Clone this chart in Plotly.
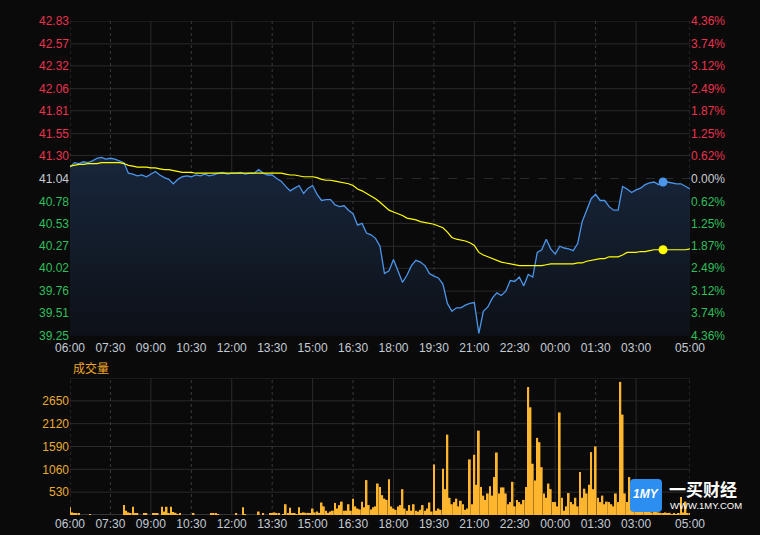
import plotly.graph_objects as go
import pandas as pd

# ---------------- data ----------------
pre_close = 41.04
price_ticks = [42.83, 42.57, 42.32, 42.06, 41.81, 41.55, 41.30, 41.04,
               40.78, 40.53, 40.27, 40.02, 39.76, 39.51, 39.25]
pct_labels = ["4.36%", "3.74%", "3.12%", "2.49%", "1.87%", "1.25%", "0.62%", "0.00%",
              "0.62%", "1.25%", "1.87%", "2.49%", "3.12%", "3.74%", "4.36%"]
vol_ticks = [530, 1060, 1590, 2120, 2650]
vol_top = 3180
time_labels = ["06:00", "07:30", "09:00", "10:30", "12:00", "13:30", "15:00", "16:30",
               "18:00", "19:30", "21:00", "22:30", "00:00", "01:30", "03:00", "05:00"]

# price every 10 minutes from 06:00 to 05:00 (next day)
price = [
    41.17, 41.22, 41.21, 41.23, 41.22, 41.24, 41.27, 41.28, 41.26, 41.27,
    41.26, 41.24, 41.22, 41.10, 41.09, 41.07, 41.08, 41.06, 41.09, 41.12,
    41.08, 41.05, 41.03, 40.98, 41.03, 41.06, 41.07, 41.06, 41.08, 41.07,
    41.09, 41.07, 41.08, 41.10, 41.11, 41.09, 41.10, 41.10, 41.11, 41.09,
    41.10, 41.10, 41.14, 41.10, 41.08, 41.08, 41.04, 41.01, 40.95, 40.90,
    40.93, 40.96, 40.87, 40.93, 40.96, 40.86, 40.79, 40.80, 40.80, 40.74,
    40.72, 40.73, 40.68, 40.64, 40.51, 40.53, 40.42, 40.40, 40.36, 40.27,
    39.96, 39.99, 40.12, 40.00, 39.86, 39.94, 40.05, 40.11, 40.09, 40.05,
    39.96, 39.93, 39.91, 39.84, 39.62, 39.53, 39.57, 39.57, 39.60, 39.62,
    39.63, 39.28, 39.53, 39.58, 39.68, 39.74, 39.71, 39.76, 39.88, 39.87,
    39.92, 39.82, 39.95, 39.92, 40.20, 40.23, 40.35, 40.24, 40.18, 40.27,
    40.25, 40.24, 40.22, 40.30, 40.55, 40.68, 40.81, 40.86, 40.79, 40.79,
    40.72, 40.68, 40.68, 40.95, 40.92, 40.88, 40.91, 40.93, 40.97, 40.99,
    41.00, 40.97, 41.00, 41.00, 40.99, 40.98, 40.98, 40.95, 40.92,
]

# average price every 10 minutes
avg = [
    41.18, 41.19, 41.20, 41.20, 41.21, 41.21, 41.21, 41.22, 41.22, 41.22,
    41.22, 41.22, 41.21, 41.19, 41.18, 41.17, 41.17, 41.17, 41.16, 41.16,
    41.15, 41.14, 41.14, 41.13, 41.12, 41.11, 41.11, 41.11, 41.10, 41.10,
    41.10, 41.10, 41.10, 41.10, 41.10, 41.10, 41.10, 41.10, 41.10, 41.10,
    41.10, 41.10, 41.10, 41.10, 41.10, 41.10, 41.10, 41.10, 41.09, 41.08,
    41.08, 41.07, 41.06, 41.06, 41.06, 41.05, 41.03, 41.02, 41.02, 41.01,
    41.00, 40.99, 40.98, 40.96, 40.92, 40.90, 40.87, 40.84, 40.81, 40.77,
    40.73, 40.68, 40.66, 40.64, 40.62, 40.59, 40.58, 40.57, 40.55, 40.54,
    40.53, 40.52, 40.50, 40.48, 40.43, 40.37, 40.35, 40.34, 40.33, 40.31,
    40.28, 40.20, 40.17, 40.15, 40.13, 40.11, 40.09, 40.08, 40.07, 40.06,
    40.05, 40.05, 40.05, 40.05, 40.05, 40.05, 40.06, 40.07, 40.07, 40.07,
    40.07, 40.07, 40.07, 40.08, 40.08, 40.10, 40.11, 40.12, 40.13, 40.13,
    40.15, 40.15, 40.15, 40.17, 40.20, 40.20, 40.20, 40.21, 40.21, 40.22,
    40.23, 40.23, 40.23, 40.23, 40.23, 40.23, 40.23, 40.23, 40.24,
]

# volume every 5 minutes
volume = [
    180, 60, 40, 40, 40, 0, 0, 0, 0, 20, 0, 0, 0, 0, 0, 0, 0, 0,
    0, 0, 0, 0, 0, 0, 230, 100, 60, 40, 190, 40, 30, 0, 0, 30, 40, 0,
    0, 40, 30, 40, 0, 190, 80, 190, 30, 190, 70, 50, 20, 30, 0, 0, 0, 0,
    0, 30, 0, 0, 0, 0, 0, 0, 0, 40, 30, 30, 20, 0, 0, 0, 0, 0,
    0, 0, 30, 0, 0, 180, 20, 0, 0, 0, 0, 0, 80, 0, 30, 0, 0, 30,
    40, 60, 40, 30, 0, 20, 250, 40, 170, 30, 30, 20, 180, 30, 60, 50, 50, 30,
    150, 60, 80, 50, 290, 200, 100, 50, 80, 100, 280, 150, 230, 310, 100, 100, 250, 100,
    380, 200, 150, 130, 310, 180, 810, 230, 130, 180, 200, 730, 650, 460, 380, 350, 830, 200,
    150, 120, 200, 230, 600, 150, 100, 230, 100, 250, 100, 80, 120, 230, 100, 150, 290, 80,
    1175, 100, 150, 120, 1075, 600, 1866, 400, 250, 300, 380, 200, 330, 250, 120, 150, 1290, 250,
    1398, 700, 1958, 650, 450, 350, 500, 670, 450, 880, 1450, 500, 640, 640, 500, 250, 300, 770,
    200, 350, 300, 250, 350, 650, 2970, 2500, 1190, 800, 1790, 1690, 1110, 500, 400, 730, 600, 300,
    300, 200, 2380, 400, 100, 200, 510, 300, 250, 400, 200, 1000, 400, 610, 500, 700, 1460, 600,
    1590, 400, 300, 450, 250, 310, 300, 250, 200, 500, 300, 3090, 2330, 500, 300, 880, 300, 150,
    100, 150, 80, 200, 100, 80, 120, 60, 100, 80, 60, 50, 40, 60, 30, 50, 20, 30, 20, 40,
    420, 60, 310, 40, 30,
]
hover_idx = 132  # the highlighted point (04:00)

# ---------------- helpers ----------------
day0 = pd.Timestamp("2024-01-01")


def to_ts(hhmm):
    h, m = map(int, hhmm.split(":"))
    ts = day0 + pd.Timedelta(hours=h, minutes=m)
    if h < 6:
        ts += pd.Timedelta(days=1)
    return ts


t_start, t_end = to_ts(time_labels[0]), to_ts(time_labels[-1])
price_times = pd.date_range(t_start, t_end, freq="10min")
vol_times = pd.date_range(t_start, t_end, freq="5min")
tick_ts = [to_ts(s) for s in time_labels]

BG = "#0a0a0a"
GRID = "#2a2a2a"
RED = "#e8334d"
GREEN = "#2fbf5c"
NEUTRAL = "#c8ccd2"
XLBL = "#c3cbd4"
BLUE = "#4b95ea"
YELLOW = "#ffff00"
ORANGE = "#ffb52e"
VOL_LBL = "#e8aa35"


def col(v):
    if abs(v - pre_close) < 1e-9:
        return NEUTRAL
    return RED if v > pre_close else GREEN


left_text = [f"<span style='color:{col(v)}'>{v:.2f}</span>" for v in price_ticks]
right_text = [f"<span style='color:{col(v)}'>{t}</span>" for v, t in zip(price_ticks, pct_labels)]

W, H = 760, 535
ML, MR, MT, MB = 70, 70, 21, 20
PW, PH = W - ML - MR, H - MT - MB
price_dom = [(H - MB - 336) / PH, 1.0]
vol_dom = [0.0, (H - MB - 378) / PH]

fig = go.Figure()

fig.add_trace(go.Scatter(
    x=price_times, y=price, mode="lines", xaxis="x", yaxis="y",
    line=dict(color=BLUE, width=1.3),
    fill="tozeroy",
    fillgradient=dict(type="vertical", start=39.25, stop=41.3,
                      colorscale=[[0, "#0d1117"], [1, "#18263c"]]),
    hoverinfo="skip",
))
fig.add_trace(go.Scatter(
    x=price_times, y=avg, mode="lines", xaxis="x", yaxis="y2",
    line=dict(color=YELLOW, width=1.2), hoverinfo="skip",
))
fig.add_trace(go.Scatter(
    x=[price_times[hover_idx]], y=[price[hover_idx]], mode="markers", xaxis="x", yaxis="y",
    marker=dict(color=BLUE, size=9), hoverinfo="skip",
))
fig.add_trace(go.Scatter(
    x=[price_times[hover_idx]], y=[avg[hover_idx]], mode="markers", xaxis="x", yaxis="y2",
    marker=dict(color=YELLOW, size=9), hoverinfo="skip",
))
fig.add_trace(go.Bar(
    x=vol_times, y=volume, xaxis="x2", yaxis="y3",
    marker=dict(color=ORANGE, line=dict(width=0)), hoverinfo="skip",
))

shapes = []
# horizontal grid: price panel
for v in price_ticks:
    shapes.append(dict(type="line", xref="x domain", x0=0, x1=1, yref="y", y0=v, y1=v,
                       line=dict(color="#353535" if v == price_ticks[-1] else GRID,
                                 width=2 if v == price_ticks[-1] else 1,
                                 dash="dash" if v == pre_close else "solid"),
                       layer="below"))
# horizontal grid: volume panel
for v in [0] + vol_ticks + [vol_top]:
    shapes.append(dict(type="line", xref="x2 domain", x0=0, x1=1, yref="y3", y0=v, y1=v,
                       line=dict(color="#353535" if v == 0 else GRID, width=2 if v == 0 else 1),
                       layer="below"))
# vertical grid
for k, ts in enumerate(tick_ts):
    edge = k == 0 or k == len(tick_ts) - 1
    solid = (not edge) and ts.minute == 0 and ts.hour % 3 == 0
    for xr, yr in (("x", "y domain"), ("x2", "y3 domain")):
        shapes.append(dict(type="line", xref=xr, x0=ts, x1=ts, yref=yr, y0=0, y1=1,
                           line=dict(color=GRID if solid else "#3a3a3a", width=1,
                                     dash="solid" if solid else "dot"),
                           layer="below"))


# watermark logo (pixel -> paper)
def px(xp):
    return (xp - ML) / PW


def py(yp):
    return (H - MB - yp) / PH


x0, x1, y0, y1, r = 630, 662, 479, 512, 4
path = (f"M {px(x0 + r)} {py(y0)} L {px(x1 - r)} {py(y0)} "
        f"Q {px(x1)} {py(y0)} {px(x1)} {py(y0 + r)} L {px(x1)} {py(y1 - r)} "
        f"Q {px(x1)} {py(y1)} {px(x1 - r)} {py(y1)} L {px(x0 + r)} {py(y1)} "
        f"Q {px(x0)} {py(y1)} {px(x0)} {py(y1 - r)} L {px(x0)} {py(y0 + r)} "
        f"Q {px(x0)} {py(y0)} {px(x0 + r)} {py(y0)} Z")
shapes.append(dict(type="path", xref="paper", yref="paper", path=path,
                   fillcolor="#2b8ef0", line=dict(width=0), layer="above"))

annotations = [
    dict(text="成交量", xref="paper", yref="paper", x=px(71), y=py(367), xanchor="left",
         yanchor="middle", showarrow=False,
         font=dict(family="Noto Sans CJK SC", size=12, color="#f0a52a")),
    dict(text="<b><i>1MY</i></b>", xref="paper", yref="paper", x=px(646), y=py(494),
         xanchor="center", yanchor="middle", showarrow=False,
         font=dict(family="Arial", size=12, color="white")),
    dict(text="<b>一买财经</b>", xref="paper", yref="paper", x=px(667), y=py(488),
         xanchor="left", yanchor="middle", showarrow=False,
         font=dict(family="Noto Sans CJK SC", size=17, color="white")),
    dict(text="WWW.1MY.COM", xref="paper", yref="paper", x=px(668), y=py(505.5),
         xanchor="left", yanchor="middle", showarrow=False,
         font=dict(family="Arial", size=9.5, color="white")),
]

axis_common = dict(showgrid=False, zeroline=False, showline=False, ticks="", automargin=False)

fig.update_layout(
    width=W, height=H,
    margin=dict(l=ML, r=MR, t=MT, b=MB),
    paper_bgcolor=BG, plot_bgcolor=BG,
    showlegend=False, bargap=0.2,
    font=dict(family="Arial, Liberation Sans, sans-serif", size=12, color=NEUTRAL),
    xaxis=dict(domain=[0, 1], anchor="y", range=[t_start, t_end], tickvals=tick_ts,
               ticktext=time_labels, tickfont=dict(color=XLBL, size=12),
               ticklabelstandoff=3, **axis_common),
    yaxis=dict(domain=price_dom, anchor="x", range=[39.25, 42.83], tickvals=price_ticks,
               ticktext=left_text, tickfont=dict(size=12), **axis_common),
    yaxis2=dict(overlaying="y", anchor="x", side="right", range=[39.25, 42.83],
                tickvals=price_ticks, ticktext=right_text, tickfont=dict(size=12),
                **axis_common),
    xaxis2=dict(domain=[0, 1], anchor="y3", range=[t_start, t_end], tickvals=tick_ts,
                ticktext=time_labels, tickfont=dict(color=XLBL, size=12), **axis_common),
    yaxis3=dict(domain=vol_dom, anchor="x2", range=[0, vol_top], tickvals=vol_ticks,
                tickfont=dict(color=VOL_LBL, size=12), **axis_common),
    shapes=shapes,
    annotations=annotations,
)

fig.write_html(
    "out.html",
    config={"displayModeBar": False},
    post_script="document.body.style.margin='0';document.body.style.padding='0';"
                "document.body.style.background='#0a0a0a';document.body.style.overflow='hidden';",
)
